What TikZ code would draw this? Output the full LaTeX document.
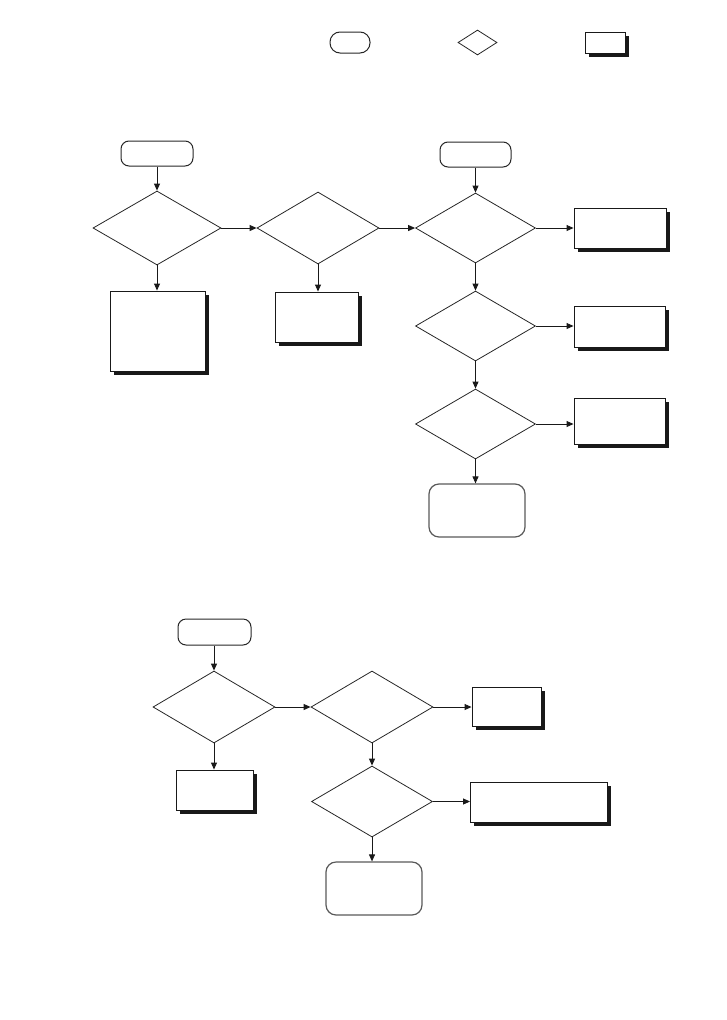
\documentclass[tikz,border=0pt]{standalone}
\usetikzlibrary{shapes.geometric,shadows,arrows.meta}
\begin{document}
\begin{tikzpicture}[x=1pt,y=-1pt,
  line width=1pt,
  term/.style={draw=black!85,rounded corners=8pt,inner sep=0pt,minimum width=#1},
  term/.default=72pt,
  dec/.style={draw=black!85,diamond,inner sep=0pt,line width=0.8pt},
  proc/.style={draw=black!90,fill=white,inner sep=0pt,line width=0.9pt,
     drop shadow={shadow xshift=3.5pt,shadow yshift=-3.5pt,fill=black!90,opacity=1}},
  fin/.style={draw=black!65,rounded corners=10pt,inner sep=0pt,line width=1.2pt,minimum width=96pt,minimum height=53pt},
  arr/.style={draw=black!90,line width=0.9pt,-{Triangle[length=7pt,width=6pt]}}
]
\useasboundingbox (0,0) rectangle (726,1020);
% legend
\node[term,rounded corners=10pt,minimum width=40pt,minimum height=21pt] (lt) at (350,42.5) {};
\node[dec,minimum width=39pt,minimum height=25pt] (ld) at (477.5,42.5) {};
\node[proc,minimum width=40pt,minimum height=21pt] (lp) at (605,43) {};
% upper chart
\node[term,minimum height=25pt] (s1) at (157,153.5) {};
\node[dec,minimum width=128pt,minimum height=74pt] (d1) at (157,228) {};
\node[dec,minimum width=122pt,minimum height=72pt] (d2) at (318,228) {};
\node[term=71pt,minimum height=25pt] (s2) at (475.5,154.5) {};
\node[dec,minimum width=120pt,minimum height=70pt] (d3) at (475.5,228) {};
\node[proc,minimum width=92pt,minimum height=40pt] (r1) at (620,228) {};
\node[proc,minimum width=95pt,minimum height=80pt] (b1) at (157.5,331) {};
\node[proc,minimum width=83pt,minimum height=50pt] (b2) at (317,317) {};
\node[dec,minimum width=120pt,minimum height=70pt] (d4) at (475.5,326) {};
\node[proc,minimum width=91pt,minimum height=41pt] (r2) at (619.5,326.5) {};
\node[dec,minimum width=120pt,minimum height=70pt] (d5) at (475.5,424) {};
\node[proc,minimum width=91pt,minimum height=46pt] (r3) at (619.5,421) {};
\node[fin] (e1) at (477,510.5) {};
\draw[arr] (s1) -- (d1);
\draw[arr] (d1.east) -- (d2.west);
\draw[arr] (d2.east) -- (d3.west);
\draw[arr] (s2) -- (d3);
\draw[arr] (d3.east) -- (r1.west);
\draw[arr] (d1.south) -- (d1.south |- b1.north);
\draw[arr] (d2.south) -- (d2.south |- b2.north);
\draw[arr] (d3.south) -- (d4.north);
\draw[arr] (d4.east) -- (d4.east -| r2.west);
\draw[arr] (d4.south) -- (d5.north);
\draw[arr] (d5.east) -- (d5.east -| r3.west);
\draw[arr] (d5.south) -- (d5.south |- e1.north);
% lower chart
\node[term=73pt,minimum height=26pt] (s3) at (214.5,632) {};
\node[dec,minimum width=122pt,minimum height=72pt] (d6) at (214,707) {};
\node[dec,minimum width=122pt,minimum height=72pt] (d7) at (372,707) {};
\node[proc,minimum width=69pt,minimum height=39pt] (r4) at (506.5,706.5) {};
\node[proc,minimum width=77pt,minimum height=40pt] (b3) at (214.5,790) {};
\node[dec,minimum width=121pt,minimum height=71pt] (d8) at (372,801.5) {};
\node[proc,minimum width=137pt,minimum height=40pt] (r5) at (539,802) {};
\node[fin] (e2) at (374,888.5) {};
\draw[arr] (s3.south -| d6.north) -- (d6.north);
\draw[arr] (d6.east) -- (d7.west);
\draw[arr] (d7.east) -- (d7.east -| r4.west);
\draw[arr] (d6.south) -- (d6.south |- b3.north);
\draw[arr] (d7.south) -- (d8.north);
\draw[arr] (d8.east) -- (d8.east -| r5.west);
\draw[arr] (d8.south) -- (d8.south |- e2.north);
\end{tikzpicture}
\end{document}
